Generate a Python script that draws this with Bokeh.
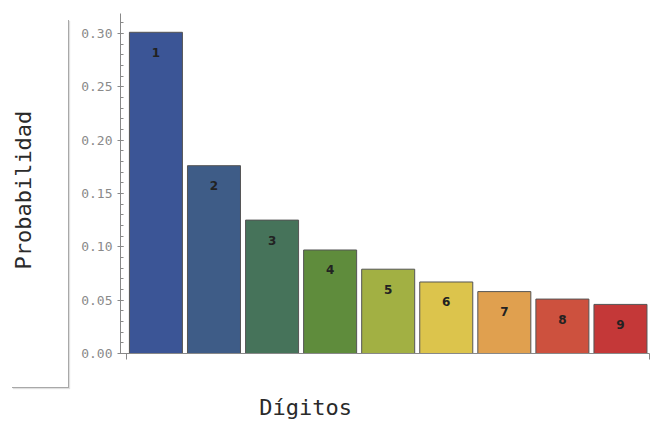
from bokeh.plotting import figure
from bokeh.models import ColumnDataSource, FixedTicker, CustomJSTickFormatter, InlineStyleSheet
from bokeh.core.properties import value
from bokeh.embed import file_html
from bokeh.resources import INLINE

digits = [1, 2, 3, 4, 5, 6, 7, 8, 9]
labels = ["1", "2", "3", "4", "5", "6", "7", "8", "9"]
probs = [0.301, 0.176, 0.125, 0.097, 0.079, 0.067, 0.058, 0.051, 0.046]
colors = ["#3b5596", "#3e5c87", "#46735a", "#5f8c3c", "#a2b043",
          "#dcc44c", "#e0a04f", "#cd513e", "#c43838"]
y_ticks = [0.0, 0.05, 0.10, 0.15, 0.20, 0.25, 0.30]
x_title = "Dígitos"
y_title = "Probabilidad"

src = ColumnDataSource(dict(x=digits, top=probs, color=colors, label=labels))

p = figure(width=650, height=422, output_backend="svg", toolbar_location=None,
           x_range=(0.39, 9.5), y_range=(0, 0.3186),
           min_border_left=120, min_border_right=1, min_border_top=13,
           min_border_bottom=67)
p.outline_line_color = None
p.grid.visible = False
p.background_fill_color = "white"

p.vbar(x="x", top="top", width=0.913, bottom=0, fill_color="color",
       line_color="#555555", line_width=1, source=src)
p.text(x="x", y="top", text="label", source=src, y_offset=20,
       text_align="center", text_baseline="middle", text_color="#222222",
       text_font=value("DejaVu Sans"), text_font_size="12px",
       text_font_style="bold")

NBSP = "\u00a0"

ya = p.yaxis[0]
ya.ticker = FixedTicker(ticks=y_ticks,
                        minor_ticks=[i / 100 for i in range(0, 32)])
ya.formatter = CustomJSTickFormatter(code="return tick.toFixed(2);")
ya.axis_line_color = "#888888"
ya.major_tick_line_color = "#888888"
ya.minor_tick_line_color = "#888888"
ya.major_tick_in = 3
ya.major_tick_out = 3
ya.minor_tick_in = 3
ya.minor_tick_out = 0
ya.major_label_text_color = "#8a8a8a"
ya.major_label_text_font = "DejaVu Sans Mono"
ya.major_label_text_font_size = "13px"
ya.major_label_standoff = 5
ya.axis_label = y_title + NBSP
ya.axis_label_text_font = "DejaVu Sans Mono"
ya.axis_label_text_font_size = "22px"
ya.axis_label_text_font_style = "normal"
ya.axis_label_text_color = "#2a2a2a"
ya.axis_label_standoff = 42

xa = p.xaxis[0]
xa.ticker = FixedTicker(ticks=[0.5, 9.5])
xa.major_label_overrides = {0.5: "", 9.5: ""}
xa.axis_line_color = "#888888"
xa.major_tick_line_color = "#888888"
xa.major_tick_in = 0
xa.major_tick_out = 6
xa.minor_tick_line_color = None
# the reference title sits left of the frame centre; pad it with no-break spaces
xa.axis_label = x_title + NBSP * 12
xa.axis_label_text_font = "DejaVu Sans Mono"
xa.axis_label_text_font_size = "22px"
xa.axis_label_text_font_style = "normal"
xa.axis_label_text_color = "#2a2a2a"
xa.axis_label_standoff = 35

# decorative grey bracket to the left of the y axis (page decoration)
p.stylesheets = [InlineStyleSheet(css="""
:host { position: relative; }
:host::after {
  content: '';
  position: absolute;
  left: 12px; top: 20px; width: 56px; height: 367px;
  border-right: 1.5px solid #a8a8a8;
  border-bottom: 1.5px solid #a8a8a8;
  box-shadow: 1px 1px 1px #e0e0e0;
  pointer-events: none;
}
""")]

open("out.html", "w").write(file_html(p, INLINE))
